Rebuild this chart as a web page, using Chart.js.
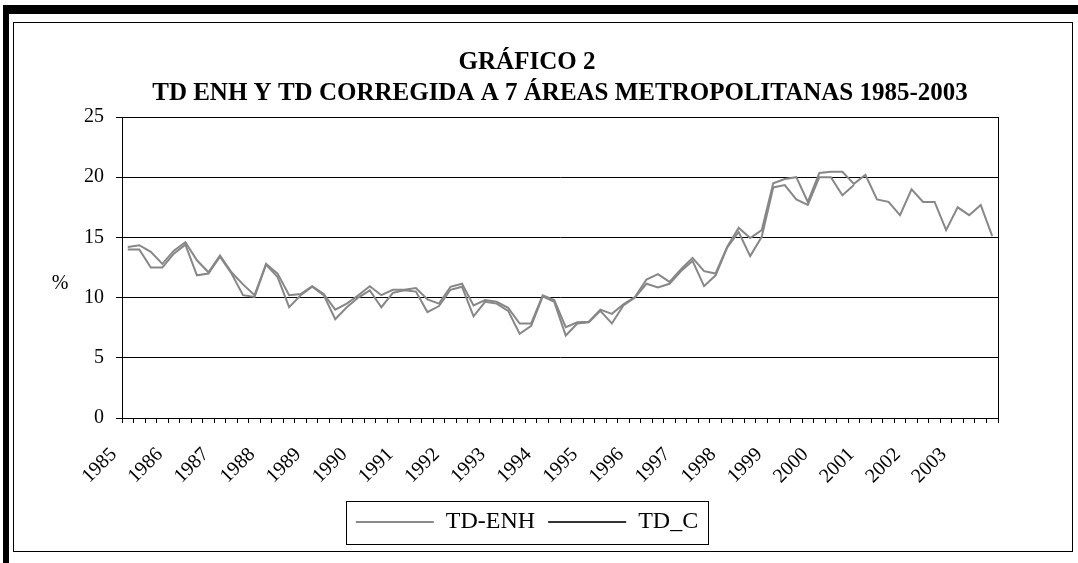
<!DOCTYPE html>
<html>
<head>
<meta charset="utf-8">
<script src="https://cdn.jsdelivr.net/npm/chart.js@4.4.1/dist/chart.umd.min.js"></script>
<style>
    body { margin: 0; background: #fff; }
    #marco { position: absolute; left: 3px; top: 5px; width: 1075px; height: 558px; border-top: 9px solid #000; border-left: 6px solid #000; box-sizing: border-box; }
    #interior { position: absolute; left: 13px; top: 22px; width: 1060px; height: 530px; border: 1px solid #000; box-sizing: border-box; }
    #grafico { position: absolute; left: 14px; top: 23px; }
</style>
</head>
<body>
<div id="marco"></div>
<div id="interior"></div>
<canvas id="grafico" width="1058" height="528"></canvas>
<script>
// años (etiquetas del eje x, una por cada cuatro trimestres)
const anios = ['1985', '1986', '1987', '1988', '1989', '1990', '1991', '1992', '1993', '1994',
    '1995', '1996', '1997', '1998', '1999', '2000', '2001', '2002', '2003'];

// Tasa de desempleo ENH (trimestral, hasta 2000-IV)
const tdEnh = [14.0, 14.0, 12.5, 12.5, 13.65, 14.4, 11.85, 12.0, 13.4, 12.0,
    10.2, 10.05, 12.75, 11.7, 9.2, 10.2, 10.9, 10.2, 8.2, 9.2,
    10.0, 10.6, 9.2, 10.4, 10.6, 10.5, 8.8, 9.3, 10.65, 10.9,
    8.45, 9.65, 9.5, 8.9, 7.0, 7.65, 10.1, 9.65, 6.85, 7.85,
    7.95, 8.9, 7.85, 9.35, 10.0, 11.15, 10.85, 11.15, 12.2, 13.05,
    10.95, 11.85, 14.15, 15.45, 13.45, 15.05, 19.15, 19.35, 18.15, 17.7,
    20.0, 20.0, 18.5, 19.35,
    null, null, null, null, null, null, null, null, null, null, null, null];

// Tasa de desempleo corregida
const tdC = [14.2, 14.35, 13.8, 12.8, 13.9, 14.6, 13.1, 12.1, 13.5, 12.1,
    11.1, 10.2, 12.8, 12.0, 10.2, 10.3, 10.95, 10.3, 9.0, 9.5,
    10.2, 10.95, 10.2, 10.65, 10.65, 10.8, 9.85, 9.5, 10.9, 11.15,
    9.35, 9.8, 9.65, 9.15, 7.85, 7.85, 10.2, 9.8, 7.55, 7.95,
    8.0, 9.0, 8.65, 9.45, 10.05, 11.5, 11.95, 11.3, 12.35, 13.3,
    12.2, 12.0, 14.2, 15.8, 14.95, 15.6, 19.5, 19.85, 20.0, 17.95,
    20.35, 20.45, 20.45, 19.45, 20.2, 18.15, 17.95, 16.85, 19.0, 17.95,
    17.95, 15.6, 17.5, 16.85, 17.7, 15.1];

const ticksY = [0, 5, 10, 15, 20, 25];

// una categoria por trimestre
const trimestres = [];
anios.forEach(a => {
    ['I', 'II', 'III', 'IV'].forEach(t => trimestres.push(a + '-' + t));
});

const fuente = 'Liberation Serif, Times New Roman, serif';

// marco del area de trazado, recuadro de la leyenda y el "%"
const extras = {
    id: 'extras',
    afterDraw(chart) {
        const ctx = chart.ctx;
        const a = chart.chartArea;
        ctx.save();
        ctx.strokeStyle = '#000';
        ctx.lineWidth = 1;
        ctx.strokeRect(Math.round(a.left) + 0.5, Math.round(a.top) + 0.5, Math.round(a.right - a.left), Math.round(a.bottom - a.top));

        ctx.fillStyle = '#000';
        ctx.font = '20px ' + fuente;
        ctx.textAlign = 'center';
        ctx.textBaseline = 'middle';
        ctx.fillText('%', a.left - 62, (a.top + a.bottom) / 2 + 16);

        const hb = chart.legend.legendHitBoxes;
        if (hb && hb.length) {
            const izq = Math.min(...hb.map(h => h.left)) - 10;
            const der = Math.max(...hb.map(h => h.left + h.width)) + 10;
            const centro = hb[0].top + hb[0].height / 2;
            ctx.strokeRect(Math.round(izq) + 0.5, Math.round(centro - 21) + 0.5, Math.round(der - izq), 43);
        }
        ctx.restore();
    }
};

const ctx = document.getElementById('grafico').getContext('2d');
new Chart(ctx, {
    type: 'line',
    data: {
        labels: trimestres,
        datasets: [
            {
                label: 'TD-ENH',
                data: tdEnh,
                borderColor: '#878787',
                borderWidth: 2,
                pointRadius: 0,
                tension: 0,
                fill: false
            },
            {
                label: 'TD_C',
                data: tdC,
                borderColor: '#878787',
                borderWidth: 2,
                pointRadius: 0,
                tension: 0,
                fill: false
            }
        ]
    },
    options: {
        responsive: false,
        animation: false,
        layout: {
            padding: { top: 14, left: 42, right: 74, bottom: 7 }
        },
        scales: {
            x: {
                type: 'category',
                offset: true,
                grid: {
                    offset: true,
                    drawOnChartArea: false,
                    drawTicks: true,
                    tickLength: 5,
                    tickColor: '#000'
                },
                border: { color: '#000', width: 1 },
                ticks: {
                    autoSkip: false,
                    minRotation: 45,
                    maxRotation: 45,
                    color: '#000',
                    padding: 20,
                    labelOffset: -14,
                    font: { family: fuente, size: 20 },
                    callback: (v, i) => (i % 4 === 0 ? anios[i / 4] : '')
                },
                afterFit: (s) => { s.height = 79; }
            },
            y: {
                min: 0,
                max: 25,
                afterBuildTicks: (s) => { s.ticks = ticksY.map(v => ({ value: v })); },
                grid: {
                    color: '#000',
                    lineWidth: 1,
                    tickLength: 6,
                    tickColor: '#000'
                },
                border: { color: '#000', width: 1 },
                ticks: {
                    color: '#000',
                    padding: 12,
                    font: { family: fuente, size: 20 }
                },
                afterFit: (s) => { s.width = 66; }
            }
        },
        plugins: {
            title: {
                display: true,
                text: 'GRÁFICO 2',
                color: '#000',
                font: { family: fuente, size: 25, weight: 'bold', lineHeight: 1.24 },
                padding: { top: 10, bottom: 0 }
            },
            subtitle: {
                display: true,
                fullSize: false,
                text: 'TD ENH Y TD CORREGIDA A 7 ÁREAS METROPOLITANAS 1985-2003',
                color: '#000',
                font: { family: fuente, size: 25, weight: 'bold', lineHeight: 1.24 },
                padding: { top: 0, bottom: 8 }
            },
            legend: {
                position: 'bottom',
                labels: {
                    color: '#000',
                    font: { family: fuente, size: 24 },
                    boxWidth: 78,
                    boxHeight: 2,
                    padding: 13,
                    generateLabels: (chart) => {
                        const items = Chart.defaults.plugins.legend.labels.generateLabels(chart);
                        items.forEach(it => {
                            it.lineWidth = 0;
                            it.fillStyle = it.datasetIndex === 0 ? '#8a8a8a' : '#333';
                            it.strokeStyle = it.fillStyle;
                        });
                        return items;
                    }
                }
            },
            tooltip: { enabled: false }
        }
    },
    plugins: [extras]
});
</script>
</body>
</html>
